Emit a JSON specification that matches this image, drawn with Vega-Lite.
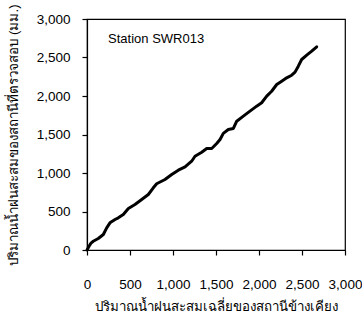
{
  "$schema": "https://vega.github.io/schema/vega-lite/v6.json",
  "width": 258,
  "height": 231,
  "autosize": "none",
  "padding": {"left": 87, "top": 19, "right": 17, "bottom": 75},
  "background": "white",
  "config": {
    "view": {"stroke": "black", "strokeWidth": 1.2},
    "axis": {
      "grid": false,
      "domainColor": "black",
      "domainWidth": 1.2,
      "tickColor": "black",
      "tickWidth": 1.2,
      "tickSize": 5,
      "labelColor": "black",
      "labelFont": "Liberation Sans",
      "labelFontSize": 13.5,
      "labelOverlap": false,
      "labelFlush": false,
      "titleColor": "black",
      "titleFontWeight": "normal",
      "titleFontSize": 13.3
    }
  },
  "data": {"values": [
    {"x": 0, "y": 0}, {"x": 30, "y": 60}, {"x": 47, "y": 90}, {"x": 73, "y": 114},
    {"x": 131, "y": 149}, {"x": 190, "y": 201}, {"x": 229, "y": 288}, {"x": 267, "y": 353},
    {"x": 326, "y": 396}, {"x": 364, "y": 418}, {"x": 422, "y": 461}, {"x": 481, "y": 539},
    {"x": 558, "y": 591}, {"x": 636, "y": 656}, {"x": 713, "y": 721}, {"x": 771, "y": 808},
    {"x": 810, "y": 860}, {"x": 907, "y": 916}, {"x": 985, "y": 981}, {"x": 1062, "y": 1037},
    {"x": 1140, "y": 1080}, {"x": 1217, "y": 1153}, {"x": 1256, "y": 1218}, {"x": 1334, "y": 1270},
    {"x": 1392, "y": 1318}, {"x": 1450, "y": 1318}, {"x": 1508, "y": 1383}, {"x": 1547, "y": 1435},
    {"x": 1585, "y": 1515}, {"x": 1643, "y": 1565}, {"x": 1702, "y": 1578}, {"x": 1741, "y": 1673},
    {"x": 1818, "y": 1738}, {"x": 1895, "y": 1803}, {"x": 1973, "y": 1868}, {"x": 2031, "y": 1912},
    {"x": 2090, "y": 1998}, {"x": 2147, "y": 2062}, {"x": 2206, "y": 2149}, {"x": 2264, "y": 2192},
    {"x": 2322, "y": 2236}, {"x": 2380, "y": 2270}, {"x": 2419, "y": 2310}, {"x": 2457, "y": 2387},
    {"x": 2496, "y": 2474}, {"x": 2555, "y": 2530}, {"x": 2613, "y": 2582}, {"x": 2671, "y": 2639}
  ]},
  "encoding": {
    "x": {"field": "x", "type": "quantitative", "scale": {"domain": [0, 3000], "nice": false},
          "axis": {"values": [0, 500, 1000, 1500, 2000, 2500, 3000], "format": ",.0f", "labelPadding": 22, "labelOverlap": false, "labelFlush": false,
                   "title": "ปริมาณน้ำฝนสะสมเฉลี่ยของสถานีข้างเคียง", "titlePadding": 9}},
    "y": {"field": "y", "type": "quantitative", "scale": {"domain": [0, 3000], "nice": false},
          "axis": {"values": [0, 500, 1000, 1500, 2000, 2500, 3000], "format": ",.0f", "labelPadding": 12, "labelOverlap": false, "labelFlush": false, "labelSeparation": 0,
                   "title": "ปริมาณน้ำฝนสะสมของสถานีที่ตรวจสอบ (มม.)", "titlePadding": 16}}
  },
  "layer": [
    {
      "mark": {"type": "line", "color": "black", "strokeWidth": 3, "strokeJoin": "round", "strokeCap": "round"}
    },
    {
      "data": {"values": [{"label": "Station SWR013", "x": 245, "y": 2734}]},
      "mark": {"type": "text", "align": "left", "baseline": "middle", "font": "Liberation Sans", "fontSize": 13, "color": "black"},
      "encoding": {
        "text": {"field": "label"}
      }
    }
  ]
}
